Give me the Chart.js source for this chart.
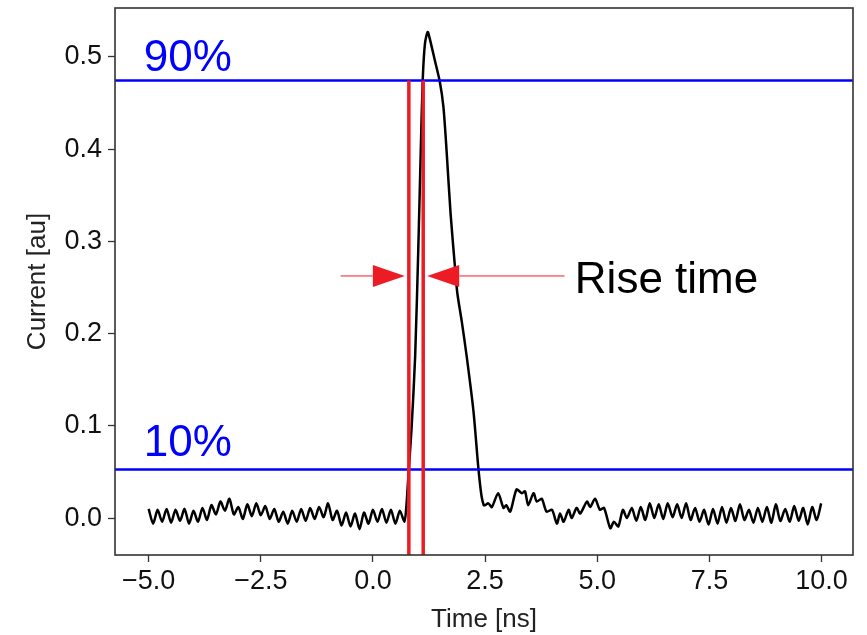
<!DOCTYPE html>
<html>
<head>
<meta charset="utf-8">
<script src="https://cdn.jsdelivr.net/npm/chart.js@4/dist/chart.umd.min.js"></script>
<style>
  body { margin: 0; background: #fff; }
  canvas { display: block; }
</style>
</head>
<body>
<canvas id="myChart" width="867" height="635"></canvas>
<script>
// time axis in ns
const times = [
  -5.0, -4.9, -4.8, -4.7, -4.6, -4.5, -4.4, -4.3, -4.2, -4.1,
  -4.0, -3.9, -3.8, -3.7, -3.6, -3.5, -3.4, -3.3, -3.2, -3.1,
  -3.0, -2.9, -2.8, -2.7, -2.6, -2.5, -2.4, -2.3, -2.2, -2.1,
  -2.0, -1.9, -1.8, -1.7, -1.6, -1.5, -1.4, -1.3, -1.2, -1.1,
  -1.0, -0.9, -0.8, -0.7, -0.6, -0.5, -0.4, -0.3, -0.2, -0.1,
  0.0, 0.1, 0.2, 0.3, 0.4, 0.5, 0.6, 0.7,
  0.74, 0.80, 0.86, 0.94, 1.01, 1.06, 1.11, 1.16, 1.22, 1.27,
  1.38, 1.49, 1.57, 1.64, 1.73, 1.83, 1.88, 1.98, 2.09, 2.24,
  2.35, 2.42, 2.47,
  2.50, 2.57, 2.65, 2.79, 2.91, 2.97, 3.06, 3.20, 3.32, 3.39,
  3.46, 3.58, 3.65, 3.76, 3.87, 3.99, 4.10, 4.17, 4.25, 4.36,
  4.43, 4.54, 4.62, 4.77, 4.84, 4.95, 5.06, 5.15, 5.29, 5.37,
  5.47, 5.57, 5.66,
  5.77, 5.87, 5.97, 6.07, 6.17, 6.27, 6.37, 6.47, 6.57, 6.68,
  6.78, 6.88, 6.98, 7.08, 7.18, 7.28, 7.38, 7.48, 7.58, 7.68,
  7.78, 7.88, 7.98, 8.08, 8.18, 8.28, 8.38, 8.48, 8.58, 8.68,
  8.78, 8.88, 8.98, 9.08, 9.19, 9.29, 9.39, 9.49, 9.59, 9.69,
  9.79, 9.89, 9.99
];

// current in arbitrary units
const currents = [
  0.010, -0.006, 0.009, -0.004, 0.010, -0.005, 0.009, -0.003, 0.010, -0.006,
  0.008, -0.004, 0.011, -0.002, 0.014, 0.004, 0.018, 0.008, 0.021, 0.004,
  0.012, -0.001, 0.015, 0.002, 0.016, 0.003, 0.013, -0.001, 0.010, -0.004,
  0.007, -0.006, 0.008, -0.004, 0.010, -0.003, 0.011, -0.001, 0.012, 0.001,
  0.016, -0.002, 0.008, -0.008, 0.006, -0.009, 0.005, -0.012, 0.006, -0.006,
  0.009, -0.004, 0.010, -0.005, 0.009, -0.006, 0.008, -0.004,
  0.010, 0.054, 0.097, 0.175, 0.291, 0.388, 0.476, 0.515, 0.527, 0.519,
  0.496, 0.473, 0.446, 0.399, 0.330, 0.271, 0.244, 0.213, 0.175, 0.116,
  0.054, 0.024, 0.014,
  0.014, 0.016, 0.012, 0.027, 0.011, 0.014, 0.007, 0.031, 0.027, 0.029,
  0.014, 0.027, 0.018, 0.021, 0.007, 0.009, -0.006, 0.005, -0.004, 0.009,
  0.000, 0.011, 0.005, 0.018, 0.012, 0.021, 0.009, 0.011, -0.011, -0.004,
  -0.009, 0.009, 0.000,
  0.011, -0.003, 0.012, -0.002, 0.016, 0.000, 0.015, -0.001, 0.016, 0.001,
  0.015, 0.000, 0.016, -0.002, 0.011, -0.004, 0.009, -0.007, 0.010, -0.006,
  0.012, -0.005, 0.011, -0.003, 0.015, -0.002, 0.009, -0.005, 0.011, -0.004,
  0.012, -0.005, 0.015, -0.003, 0.010, -0.004, 0.013, -0.003, 0.011, -0.007,
  0.012, -0.002, 0.016
];

const xTicks = [-5.0, -2.5, 0.0, 2.5, 5.0, 7.5, 10.0];
const yTicks = [0.0, 0.1, 0.2, 0.3, 0.4, 0.5];

// rise window edges (ns) and annotation positions
const riseStart = 0.80;
const riseEnd = 1.12;
const arrowY = 0.2625;
const labelX = -5.11;
const riseLabel = { x: 4.50, y: 0.2437, text: "Rise time" };

const xMin = -5.75, xMax = 10.7;
const yMin = -0.04, yMax = 0.553;

const peak = Math.max(...currents);
const hi = 0.9 * peak;
const lo = 0.1 * peak;
const levelLabels = [
  { text: "90%", y: hi + 0.010 },
  { text: "10%", y: lo + 0.015 },
];

const BLUE = "#0000ff";
const RED = "#ed1c24";
const FONT = "'Liberation Sans', Arial, sans-serif";

const pulse = times.map((t, i) => ({ x: t, y: currents[i] }));

function fmt(v) {
  const s = Math.abs(v).toFixed(1);
  return v < 0 ? "\u2212" + s : s;
}

const annotate = {
  id: "annotate",
  afterDatasetsDraw(chart) {
    const ctx = chart.ctx;
    const xs = chart.scales.x;
    const ys = chart.scales.y;
    const px = (v) => xs.getPixelForValue(v);
    const py = (v) => ys.getPixelForValue(v);

    ctx.save();
    // arrows
    ctx.fillStyle = RED;
    ctx.strokeStyle = RED;
    ctx.lineWidth = 1;
    const ay = py(arrowY);
    const gap = 4;
    const head = 32;
    const half = 11;
    // left arrow pointing right
    const lTip = px(riseStart) - gap;
    ctx.beginPath();
    ctx.moveTo(px(-0.72), ay);
    ctx.lineTo(lTip - head, ay);
    ctx.stroke();
    ctx.beginPath();
    ctx.moveTo(lTip, ay);
    ctx.lineTo(lTip - head, ay - half);
    ctx.lineTo(lTip - head, ay + half);
    ctx.closePath();
    ctx.fill();
    // right arrow pointing left
    const rTip = px(riseEnd) + gap;
    ctx.beginPath();
    ctx.moveTo(rTip + head, ay);
    ctx.lineTo(px(4.27), ay);
    ctx.stroke();
    ctx.beginPath();
    ctx.moveTo(rTip, ay);
    ctx.lineTo(rTip + head, ay - half);
    ctx.lineTo(rTip + head, ay + half);
    ctx.closePath();
    ctx.fill();

    // texts
    ctx.font = "44px " + FONT;
    ctx.textBaseline = "alphabetic";
    ctx.textAlign = "left";
    ctx.fillStyle = BLUE;
    levelLabels.forEach((l) => ctx.fillText(l.text, px(labelX), py(l.y)));
    ctx.fillStyle = "#000";
    ctx.fillText(riseLabel.text, px(riseLabel.x), py(riseLabel.y));

    // frame
    const a = chart.chartArea;
    ctx.strokeStyle = "#333";
    ctx.lineWidth = 1.6;
    ctx.strokeRect(a.left, a.top, a.right - a.left, a.bottom - a.top);
    ctx.restore();
  },
};

const ctx = document.getElementById("myChart").getContext("2d");
const myChart = new Chart(ctx, {
  type: "scatter",
  data: {
    datasets: [
      {
        // rise window edges
        data: [{ x: riseStart, y: hi }, { x: riseStart, y: yMin }, { x: NaN, y: NaN },
               { x: riseEnd, y: hi }, { x: riseEnd, y: yMin }],
        showLine: true,
        spanGaps: false,
        borderColor: RED,
        borderWidth: 3.5,
        pointRadius: 0,
        order: 0,
      },
      {
        data: [{ x: xMin, y: hi }, { x: xMax, y: hi }],
        showLine: true,
        borderColor: BLUE,
        borderWidth: 2.5,
        pointRadius: 0,
        order: 1,
      },
      {
        data: [{ x: xMin, y: lo }, { x: xMax, y: lo }],
        showLine: true,
        borderColor: BLUE,
        borderWidth: 2.5,
        pointRadius: 0,
        order: 2,
      },
      {
        data: pulse,
        showLine: true,
        borderColor: "#000",
        borderWidth: 2.5,
        pointRadius: 0,
        tension: 0.25,
        order: 3,
      },
    ],
  },
  options: {
    responsive: false,
    animation: false,
    layout: { padding: { left: 0, top: 8, right: 14, bottom: 0 } },
    plugins: { legend: { display: false }, tooltip: { enabled: false } },
    scales: {
      x: {
        type: "linear",
        min: xMin,
        max: xMax,
        afterBuildTicks: (s) => { s.ticks = xTicks.map((v) => ({ value: v })); },
        afterFit: (s) => { s.height = 80; s.paddingLeft = 0; s.paddingRight = 0; },
        grid: { drawOnChartArea: false, drawTicks: true, tickLength: 7, tickColor: "#333", tickWidth: 1.3 },
        border: { display: false },
        ticks: {
          color: "#111",
          font: { family: FONT, size: 27 },
          padding: 3,
          maxRotation: 0,
          callback: (v) => fmt(v),
        },
        title: {
          display: true,
          text: "Time [ns]",
          color: "#222",
          font: { family: FONT, size: 26 },
          padding: { top: 0, bottom: 0 },
        },
      },
      y: {
        type: "linear",
        min: yMin,
        max: yMax,
        afterBuildTicks: (s) => { s.ticks = yTicks.map((v) => ({ value: v })); },
        afterFit: (s) => { s.width = 115; s.paddingTop = 0; s.paddingBottom = 0; },
        grid: { drawOnChartArea: false, drawTicks: true, tickLength: 7, tickColor: "#333", tickWidth: 1.3 },
        border: { display: false },
        ticks: {
          color: "#111",
          font: { family: FONT, size: 27 },
          padding: 6,
          callback: (v) => fmt(v),
        },
        title: {
          display: true,
          text: "Current [au]",
          color: "#222",
          font: { family: FONT, size: 26 },
          padding: { top: 22, bottom: 0 },
        },
      },
    },
  },
  plugins: [annotate],
});
</script>
</body>
</html>
